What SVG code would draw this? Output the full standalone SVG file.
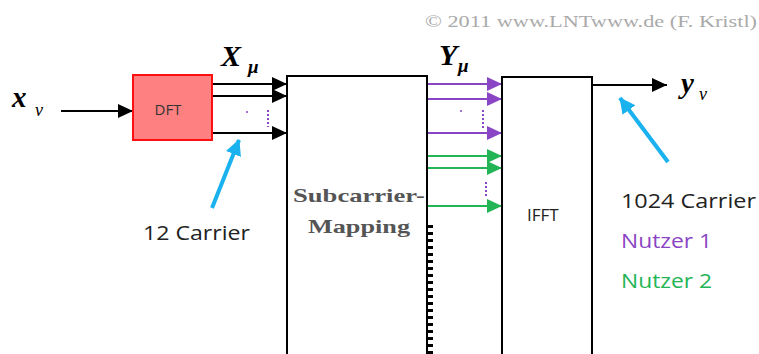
<svg xmlns="http://www.w3.org/2000/svg" width="759" height="354" viewBox="0 0 759 354">
<style>
.box{fill:#fff;stroke:#000;stroke-width:2}
.blk{stroke:#000;stroke-width:2;fill:none}
.pur{stroke:#8a45c4;stroke-width:2;fill:none}
.grn{stroke:#22b455;stroke-width:2;fill:none}
.blu{stroke:#19b2ef;stroke-width:4;fill:none}
.math{font-family:"Liberation Serif",serif;font-weight:bold;font-style:italic;fill:#000}
.sub{font-family:"Liberation Serif",serif;font-style:italic;fill:#000}
.lbl{font-family:"Open Sans","Noto Sans",sans-serif}
</style>
<defs>
<marker id="ak" markerUnits="userSpaceOnUse" markerWidth="16" markerHeight="16" refX="15" refY="7" orient="auto"><path d="M0,0 L15,7 L0,14 Z" fill="#000"/></marker>
<marker id="ap" markerUnits="userSpaceOnUse" markerWidth="16" markerHeight="16" refX="15" refY="7" orient="auto"><path d="M0,0 L15,7 L0,14 Z" fill="#8a45c4"/></marker>
<marker id="ag" markerUnits="userSpaceOnUse" markerWidth="16" markerHeight="16" refX="15" refY="7" orient="auto"><path d="M0,0 L15,7 L0,14 Z" fill="#22b455"/></marker>
<marker id="ab" markerUnits="userSpaceOnUse" markerWidth="18" markerHeight="18" refX="15" refY="8" orient="auto"><path d="M0,0 L16,8 L0,16 Z" fill="#19b2ef"/></marker>
</defs>
<rect width="759" height="354" fill="#fff"/>
<text x="425" y="27" font-family="Liberation Serif,serif" font-size="17" fill="#aaa" textLength="332" lengthAdjust="spacingAndGlyphs">© 2011 www.LNTwww.de (F. Kristl)</text>

<g id="connectors">
<line class="blk" x1="61" y1="111" x2="133" y2="111" marker-end="url(#ak)"/>
<line class="blk" x1="212" y1="84" x2="287" y2="84" marker-end="url(#ak)"/>
<line class="blk" x1="212" y1="96" x2="287" y2="96" marker-end="url(#ak)"/>
<line class="blk" x1="212" y1="133" x2="287" y2="133" marker-end="url(#ak)"/>
<line class="pur" x1="427" y1="84" x2="502" y2="84" marker-end="url(#ap)"/>
<line class="pur" x1="427" y1="99" x2="502" y2="99" marker-end="url(#ap)"/>
<line class="pur" x1="427" y1="133" x2="502" y2="133" marker-end="url(#ap)"/>
<line class="grn" x1="427" y1="156" x2="502" y2="156" marker-end="url(#ag)"/>
<line class="grn" x1="427" y1="168" x2="502" y2="168" marker-end="url(#ag)"/>
<line class="grn" x1="427" y1="206" x2="502" y2="206" marker-end="url(#ag)"/>
<line class="blk" x1="592" y1="85" x2="667" y2="85" marker-end="url(#ak)"/>
<line class="blu" x1="212" y1="208" x2="239" y2="140" marker-end="url(#ab)"/>
<line class="blu" x1="668" y1="162" x2="620" y2="98" marker-end="url(#ab)"/>
<circle cx="247" cy="112" r="1" fill="#8a45c4"/>
<line x1="268" y1="110" x2="268" y2="127" stroke="#8a45c4" stroke-width="2" stroke-dasharray="2 2"/>
<circle cx="461" cy="111" r="1" fill="#8a45c4"/>
<line x1="483" y1="110" x2="483" y2="128" stroke="#8a45c4" stroke-width="2" stroke-dasharray="2 2"/>
<line x1="486" y1="182" x2="486" y2="198" stroke="#8a45c4" stroke-width="2" stroke-dasharray="2 2"/>
</g>

<g id="dft">
<rect x="133" y="75" width="79" height="65" fill="#ff8080" stroke="#ff1010" stroke-width="2"/>
<text x="168" y="115" class="lbl" font-size="15" fill="#333" text-anchor="middle">DFT</text>
</g>

<g id="mapping">
<path class="box" d="M287,360 V76 H427 V360"/>
<line x1="430" y1="225" x2="430" y2="354" stroke="#000" stroke-width="6" stroke-dasharray="3 4"/>
<text x="359" y="202" font-family="Liberation Serif,serif" font-weight="bold" font-size="19" fill="#555" text-anchor="middle" textLength="132" lengthAdjust="spacingAndGlyphs">Subcarrier-</text>
<text x="359" y="233" font-family="Liberation Serif,serif" font-weight="bold" font-size="19" fill="#555" text-anchor="middle" textLength="102" lengthAdjust="spacingAndGlyphs">Mapping</text>
</g>

<g id="ifft">
<path class="box" d="M502,360 V77 H592 V360"/>
<text x="527" y="221" class="lbl" font-size="17" fill="#222">IFFT</text>
</g>

<g id="labels">
<text x="12" y="107" class="math" font-size="29">x</text>
<text x="35" y="116" class="sub" font-size="18">ν</text>
<text x="221" y="66" class="math" font-size="30">X</text>
<text x="248" y="73" class="math" font-size="19">μ</text>
<text x="439" y="65" class="math" font-size="30">Y</text>
<text x="458" y="72" class="math" font-size="19">μ</text>
<text x="681" y="93" class="math" font-size="29">y</text>
<text x="699" y="100" class="sub" font-size="18">ν</text>
<text x="143" y="240" class="lbl" font-size="20" fill="#222" textLength="107" lengthAdjust="spacingAndGlyphs">12 Carrier</text>
<text x="621" y="208" class="lbl" font-size="20" fill="#222" textLength="135" lengthAdjust="spacingAndGlyphs">1024 Carrier</text>
<text x="621" y="248" class="lbl" font-size="20" fill="#8a45c4" textLength="91" lengthAdjust="spacingAndGlyphs">Nutzer 1</text>
<text x="621" y="288" class="lbl" font-size="20" fill="#22b455" textLength="91" lengthAdjust="spacingAndGlyphs">Nutzer 2</text>
</g>
</svg>
